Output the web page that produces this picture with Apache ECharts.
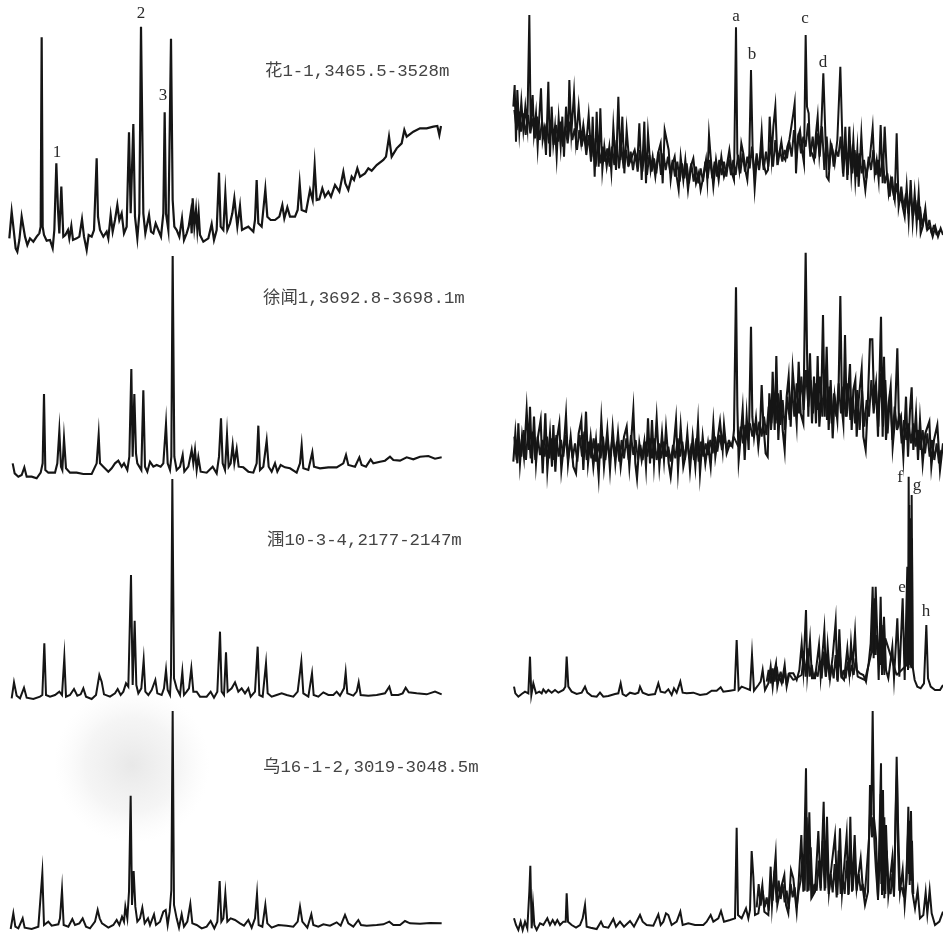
<!DOCTYPE html>
<html><head><meta charset="utf-8">
<style>html,body{margin:0;padding:0;background:#fff}#c{width:943px;height:934px;filter:blur(0.45px)}</style>
<script src="https://cdn.jsdelivr.net/npm/echarts@6/dist/echarts.min.js"></script>
</head><body><div id="c"></div>
<script>
// Each trace: flat list of retention position, peak height (arbitrary units)
const traceHua = [28,65,35,145,40,100,47,35,52,25,58,60,65,130,70,135,75,70,82,45,90,65,100,55,110,70,118,80,122,100,125,668,128,100,132,75,140,58,150,60,158,35,163,90,169,290,174,150,178,80,184,220,190,70,196,75,204,90,208,65,214,102,219,60,230,65,238,70,246,122,252,70,260,30,266,75,275,70,282,90,290,305,294,130,300,90,310,70,320,85,325,65,332,135,338,85,345,120,352,165,358,120,365,140,372,80,380,100,387,383,392,140,400,408,405,130,412,65,418,140,423,700,427,700,430,140,436,80,447,135,453,85,460,80,467,110,475,90,483,70,490,140,494,443,498,140,505,90,513,664,518,180,523,100,530,90,538,70,546,125,552,60,560,80,566,100,572,140,575,80,578,185,583,100,588,150,592,90,596,140,600,75,610,55,625,65,635,108,642,60,650,90,657,262,662,100,670,90,676,200,682,90,690,110,697,140,703,185,708,190,712,100,720,162,726,90,735,95,745,100,760,85,765,120,770,240,775,110,785,100,796,212,802,130,812,120,825,120,838,130,847,165,853,125,862,158,870,130,885,130,893,150,899,230,905,150,918,145,930,210,938,180,944,283,950,180,958,182,967,215,975,190,985,205,993,190,1005,225,1018,205,1030,265,1036,230,1045,210,1055,250,1062,240,1072,275,1080,250,1095,260,1105,275,1115,268,1130,285,1150,300,1158,310,1167,370,1175,310,1190,335,1205,350,1213,390,1220,370,1240,385,1260,395,1280,395,1300,400,1312,402,1318,375,1323,402];
const traceXuwen = [38,50,44,20,55,10,65,15,73,38,80,10,95,10,110,5,122,22,128,50,132,258,136,30,145,22,165,22,172,50,178,147,183,40,187,30,192,125,198,35,210,22,230,22,250,18,275,18,290,50,296,135,300,50,310,40,325,25,335,35,345,50,355,58,365,40,372,50,382,30,388,70,394,333,398,70,403,258,408,80,412,50,424,30,430,269,435,40,442,25,450,55,460,40,470,45,482,40,490,50,498,168,503,50,510,30,514,70,518,672,523,70,530,30,540,40,548,75,553,25,565,40,575,90,580,50,585,90,590,30,595,68,602,25,620,22,638,40,650,20,657,70,663,185,668,50,675,30,681,135,686,40,692,50,698,105,703,50,710,93,716,40,730,38,745,25,760,22,770,50,775,163,780,30,790,40,800,118,806,40,815,25,825,50,832,25,842,45,855,38,870,35,890,22,900,50,905,104,910,35,925,30,937,83,942,40,960,35,985,38,1010,38,1030,50,1038,75,1045,45,1065,40,1078,68,1085,45,1098,40,1112,62,1120,50,1140,55,1155,58,1170,70,1180,60,1200,58,1220,68,1240,62,1260,70,1285,72,1305,64,1325,68];
const traceWei = [35,20,42,68,50,28,60,20,72,52,80,22,100,18,120,25,127,30,133,185,138,30,150,25,165,30,178,40,186,30,193,143,198,25,210,30,222,48,232,28,242,32,250,50,258,25,275,18,288,30,298,90,305,70,312,32,330,25,345,35,353,48,362,30,370,40,378,65,385,55,393,390,398,60,404,253,409,60,415,35,424,50,431,135,436,40,445,30,455,45,460,40,466,75,472,35,485,30,492,50,498,105,503,45,510,30,513,90,517,678,522,80,530,50,540,30,547,100,552,30,560,40,567,50,574,110,580,40,590,40,600,25,620,25,632,40,642,22,652,40,660,220,665,40,672,30,678,158,683,40,695,50,705,68,715,40,725,50,735,35,745,50,752,25,765,40,773,175,778,30,788,25,798,125,803,35,815,25,830,30,845,35,860,30,880,25,893,40,904,130,910,35,925,25,936,95,941,30,955,25,970,38,985,30,1000,30,1010,40,1020,28,1032,50,1037,98,1042,35,1060,28,1070,40,1076,68,1082,30,1105,28,1130,30,1155,35,1168,55,1175,30,1195,30,1208,35,1217,52,1226,38,1250,35,1280,32,1305,40,1325,32];
const traceWu = [32,15,40,62,46,22,55,17,68,47,74,19,95,15,115,22,121,27,127,182,132,27,145,37,155,25,175,29,180,47,186,132,191,27,205,22,217,45,225,27,238,32,248,47,258,22,270,17,285,37,293,72,299,47,306,32,325,19,340,27,350,42,358,27,366,52,372,37,376,82,382,47,387,127,392,415,396,87,401,189,406,82,412,37,420,47,427,79,434,32,444,47,450,27,462,59,468,27,480,37,490,67,497,72,503,27,509,67,514,132,518,669,522,87,530,47,537,19,545,59,552,22,562,37,571,90,577,32,590,27,605,17,620,22,632,39,643,17,652,37,659,159,664,37,670,47,676,122,682,37,692,47,705,42,720,32,732,25,745,42,755,19,765,47,771,120,776,27,787,22,796,87,802,32,815,19,835,27,860,25,880,22,893,37,900,82,907,37,922,19,934,59,940,27,955,22,970,29,990,25,1010,35,1022,25,1035,57,1045,32,1060,22,1075,42,1083,27,1100,25,1130,27,1150,29,1168,37,1180,27,1200,27,1215,39,1230,32,1260,31,1290,33,1325,32];
const traceHuaHi = [40,430,44,495,48,325,52,480,58,355,64,445,70,360,76,430,82,370,88,705,92,370,98,465,102,350,108,410,113,310,118,400,123,485,128,330,133,360,138,285,145,505,150,280,155,430,160,320,165,370,170,280,176,395,182,310,187,400,192,280,198,430,204,330,208,510,214,350,222,470,228,330,236,430,244,325,250,375,258,310,266,405,274,280,278,400,284,220,290,415,296,250,301,425,307,240,313,310,320,250,328,310,334,235,340,370,348,240,355,460,361,270,367,400,373,230,380,360,388,260,396,280,404,300,412,260,418,380,425,210,433,385,438,200,444,350,452,240,458,280,466,220,474,290,482,320,488,200,494,360,500,365,506,300,512,210,518,260,524,280,530,220,536,180,542,280,550,210,556,270,564,180,572,250,580,275,588,200,596,230,602,180,610,220,618,270,622,210,627,345,632,280,640,190,648,270,656,210,664,280,672,220,680,250,688,300,696,230,702,210,708,668,712,290,718,240,724,320,730,290,736,240,742,210,748,290,753,540,758,300,764,185,770,270,778,250,785,355,790,260,798,230,804,240,809,400,815,280,820,370,826,430,832,270,838,290,844,325,850,280,856,270,862,310,868,330,874,370,880,410,884,440,888,230,894,340,900,360,906,300,912,260,917,645,921,430,926,410,930,300,936,290,942,270,948,350,953,400,958,290,964,370,970,530,975,380,980,220,986,210,992,320,998,300,1004,260,1012,330,1021,550,1026,370,1030,220,1036,370,1042,210,1048,370,1054,230,1060,330,1066,210,1072,300,1076,190,1084,345,1090,230,1096,180,1102,240,1110,280,1118,365,1124,230,1130,270,1136,210,1142,375,1148,200,1154,370,1160,240,1166,170,1172,210,1178,180,1184,150,1190,350,1196,130,1202,170,1208,130,1214,100,1220,190,1226,90,1232,210,1238,85,1244,170,1250,80,1256,170,1262,50,1268,70,1276,125,1282,60,1290,70,1298,40,1306,70,1314,40,1322,65,1329,45];
const traceXuwenHi = [40,55,46,140,52,50,55,170,60,50,66,130,72,70,80,210,86,90,90,220,96,50,102,190,108,50,114,130,122,180,128,20,136,200,142,30,150,140,156,40,160,165,166,25,172,130,178,170,184,30,192,110,198,195,204,50,212,130,220,40,228,20,236,140,244,180,250,30,258,205,264,50,272,130,280,40,288,120,296,10,304,180,312,40,322,150,330,30,338,155,346,50,354,140,362,40,372,130,380,160,388,40,400,210,406,50,411,5,418,110,425,60,433,115,438,40,444,185,450,50,456,180,462,50,470,185,478,40,486,140,492,60,498,155,506,50,512,10,520,90,528,180,534,30,542,160,550,40,556,70,562,140,570,30,578,130,586,40,594,170,600,20,608,130,616,50,624,110,632,40,640,170,646,70,654,130,660,175,668,90,672,165,680,80,690,110,697,100,702,150,708,578,712,220,716,60,722,130,728,210,734,60,740,190,746,90,753,460,757,190,762,130,768,185,775,100,780,150,785,285,790,170,797,80,803,70,808,260,814,170,818,325,824,150,829,372,835,120,842,270,848,150,854,90,860,250,866,310,872,160,878,330,884,335,890,170,896,355,902,200,910,170,917,682,921,390,925,190,930,380,936,170,942,310,948,170,953,372,958,160,964,250,969,495,974,190,980,400,986,150,992,300,998,125,1004,250,1012,180,1016,290,1021,552,1026,210,1030,170,1035,435,1040,190,1050,348,1055,150,1060,270,1066,300,1070,130,1076,240,1085,332,1090,130,1097,90,1103,220,1110,422,1117,422,1122,240,1128,290,1134,130,1143,490,1148,130,1152,370,1158,120,1165,220,1172,280,1178,100,1184,170,1192,395,1197,170,1203,190,1210,70,1218,250,1224,70,1230,210,1235,278,1240,90,1248,200,1254,60,1260,180,1268,50,1276,140,1288,175,1294,40,1302,120,1312,165,1320,30,1329,110];
const traceWeiHi = [42,55,46,35,55,25,65,33,75,40,85,35,90,145,94,30,100,65,108,35,118,40,125,35,130,47,138,37,145,45,155,37,165,45,175,37,190,45,196,55,200,145,205,55,215,40,230,33,245,37,255,55,262,37,275,27,290,25,300,37,310,25,325,27,345,33,355,35,362,65,368,33,378,27,390,37,405,33,415,37,420,55,428,37,445,30,465,33,475,65,482,40,495,37,505,47,515,30,522,50,530,37,541,70,548,37,560,35,580,37,600,30,620,33,635,43,650,43,662,53,670,40,690,43,704,45,710,195,716,45,725,55,740,49,750,45,756,150,762,43,775,60,782,70,788,105,795,45,805,65,812,115,818,55,822,95,828,125,832,55,838,85,845,65,854,120,860,55,868,95,880,95,890,75,898,105,905,183,910,105,918,285,922,95,930,195,936,80,945,80,957,180,962,85,973,225,978,85,983,177,990,80,998,145,1007,250,1012,75,1018,227,1024,85,1032,75,1042,170,1048,95,1053,185,1058,115,1065,217,1070,105,1080,95,1090,90,1098,70,1106,125,1112,185,1118,355,1122,150,1127,355,1132,205,1136,75,1142,325,1146,105,1152,265,1158,105,1165,80,1177,175,1182,80,1192,260,1198,85,1208,320,1214,75,1222,415,1224,105,1226,685,1229,125,1231,505,1233,115,1235,630,1238,115,1244,75,1252,55,1262,50,1272,65,1279,240,1284,80,1292,55,1305,45,1320,45,1329,60];
const traceWuHi = [42,47,48,27,55,12,62,37,68,12,75,37,82,17,88,127,91,205,95,17,99,87,103,27,110,12,120,32,130,27,142,47,150,27,158,42,165,29,172,42,180,27,190,37,197,37,200,122,204,37,215,27,228,19,240,27,248,47,255,87,260,22,272,19,290,15,303,37,310,22,325,19,340,45,348,22,360,37,372,22,390,39,402,22,420,57,428,37,440,27,460,25,475,59,482,27,490,37,498,62,505,57,515,27,530,37,541,67,548,27,565,32,585,27,610,27,620,37,632,57,640,37,655,47,663,69,672,37,690,42,705,47,710,319,714,57,725,47,738,77,745,47,750,72,755,249,760,172,765,57,775,62,787,147,793,67,805,57,812,202,816,87,822,177,827,237,832,87,840,127,853,177,858,87,865,62,873,192,880,167,890,67,896,157,904,297,910,127,918,497,922,127,928,365,934,107,945,127,955,309,962,137,971,397,976,137,981,352,987,127,995,207,1005,295,1012,117,1020,317,1026,122,1032,117,1040,297,1045,117,1051,352,1056,127,1064,297,1070,137,1082,227,1088,142,1095,87,1104,127,1110,447,1114,357,1118,669,1122,347,1128,287,1134,102,1143,512,1146,117,1149,432,1153,107,1158,327,1165,117,1177,229,1182,112,1190,532,1194,337,1200,127,1208,192,1214,87,1220,167,1225,382,1229,147,1233,369,1237,127,1245,77,1253,132,1260,47,1270,57,1277,125,1282,60,1289,132,1295,62,1305,27,1318,37,1329,67];

// Second reading of the dense unresolved band inside each noisy trace
const bandHua = [43,420,50,360,57,415,63,355,70,410,77,345,84,405,91,350,98,395,105,335,112,400,119,330,126,385,133,340,140,380,147,320,154,390,161,315,168,375,175,325,182,385,189,310,196,370,203,320,210,385,217,330,224,365,231,300,238,360,245,310,252,350,259,285,266,345,273,265,280,335,287,250,294,325,301,260,308,310,315,265,322,305,329,250,336,310,343,255,350,330,357,245,364,310,371,245,378,300,385,250,392,295,399,240,406,290,413,235,420,300,427,235,434,300,441,225,448,285,455,235,462,275,469,230,476,295,483,225,490,290,497,240,504,280,511,230,518,270,525,220,532,265,539,205,546,260,553,215,560,260,567,200,574,260,581,205,588,250,595,200,602,245,609,205,616,265,623,215,630,270,637,215,644,265,651,220,658,270,665,225,672,265,679,220,686,275,693,225,700,270,707,225,714,285,721,230,728,290,735,235,742,280,749,245,756,310,763,225,770,290,777,240,784,305,791,240,798,295,805,250,812,320,819,250,826,330,833,255,840,300,847,265,854,300,861,275,868,325,875,280,882,360,889,275,896,350,903,290,910,340,917,310,924,380,931,280,938,340,945,275,952,350,959,280,966,370,973,240,980,340,987,240,994,320,1001,250,1008,300,1015,280,1022,340,1029,230,1036,310,1043,225,1050,320,1057,230,1064,300,1071,220,1078,290,1085,230,1092,270,1099,215,1106,280,1113,240,1120,300,1127,225,1134,270,1141,220,1148,280,1155,200,1162,230,1169,160,1176,220,1183,150,1190,200,1197,140,1204,190,1211,125,1218,170,1225,110,1232,170,1239,100,1246,150,1253,90,1260,130,1267,70,1274,110,1281,60,1288,90,1295,50,1302,75,1310,45,1320,60];
const bandXuwen = [43,130,50,60,57,125,64,70,71,150,78,60,85,165,92,65,99,145,106,60,113,130,120,75,127,120,134,70,141,130,148,65,155,125,162,60,169,135,176,70,183,120,190,70,197,135,204,60,211,120,218,65,225,110,232,55,239,135,246,70,253,145,260,60,267,115,274,65,281,125,288,55,295,110,302,65,309,130,316,60,323,115,330,65,337,125,344,70,351,115,358,55,365,120,372,65,379,125,386,60,393,135,400,75,407,120,414,60,421,105,428,60,435,115,442,70,449,125,456,65,463,125,470,60,477,110,484,65,491,115,498,70,505,100,512,55,519,105,526,65,533,125,540,70,547,115,554,60,561,120,568,65,575,110,582,60,589,125,596,55,603,115,610,70,617,110,624,75,631,120,638,80,645,130,652,85,659,135,666,90,673,130,680,95,687,120,694,100,701,130,715,100,722,160,729,110,736,165,743,120,750,170,757,130,764,170,771,135,778,175,785,130,792,190,799,135,806,220,813,150,820,245,827,170,834,260,841,165,848,240,855,150,862,250,869,180,876,270,883,190,890,290,897,200,904,310,911,210,918,330,925,220,932,300,939,200,946,290,953,210,960,310,967,190,974,320,981,180,988,280,995,170,1002,260,1009,190,1016,290,1023,200,1030,280,1037,190,1044,290,1051,180,1058,250,1065,170,1072,270,1079,150,1086,270,1093,160,1100,240,1107,190,1114,300,1121,200,1128,270,1135,160,1142,320,1149,160,1156,300,1163,140,1170,260,1177,120,1184,220,1191,150,1198,200,1205,110,1212,180,1219,120,1226,170,1233,110,1240,170,1247,100,1254,150,1261,90,1268,150,1275,80,1282,140,1289,70,1296,120,1303,60,1310,110,1317,50,1324,90];
const bandWei = [800,70,806,105,812,65,818,110,824,70,830,115,836,75,842,100,848,65,854,105,860,60,866,95,880,75,905,90,911,150,917,85,923,170,929,85,935,120,941,80,947,100,953,85,959,130,965,80,971,160,977,85,983,140,989,75,995,120,1001,80,1007,150,1013,70,1019,160,1025,80,1031,105,1037,80,1043,130,1049,85,1055,120,1061,90,1067,140,1073,85,1095,75,1115,160,1118,300,1121,140,1124,320,1127,150,1130,210,1140,120,1143,250,1146,90,1150,240,1153,90,1156,200,1190,90,1220,120,1223,300,1226,110,1228,600,1230,120,1232,560,1234,110,1236,500,1238,110];
const bandWu = [770,80,776,150,782,85,788,130,794,80,800,110,806,70,812,140,818,100,824,190,830,95,836,160,842,105,848,150,854,95,860,130,866,75,872,150,878,110,884,140,890,80,896,130,902,160,908,240,914,130,920,350,926,130,932,260,938,120,944,150,950,130,956,220,962,130,968,280,974,130,980,260,986,120,992,180,998,125,1004,210,1010,110,1016,250,1022,120,1028,170,1034,120,1040,220,1046,120,1052,240,1058,130,1064,230,1070,130,1076,180,1082,130,1088,150,1094,110,1108,300,1112,420,1116,290,1120,350,1124,260,1128,190,1134,110,1139,220,1142,420,1144,150,1147,400,1150,130,1153,350,1156,120,1160,250,1166,130,1172,120,1177,180,1182,120,1188,400,1191,480,1194,250,1198,130,1205,140,1212,110,1218,150,1224,300,1227,180,1230,340,1233,160,1236,280,1240,120];

const peakNamesLeft = ['1','2','3'];
const peakNamesRight = ['a','b','c','d','f','g','e','h'];
const sampleLabels = ['花1-1,3465.5-3528m','徐闻1,3692.8-3698.1m','涠10-3-4,2177-2147m','乌16-1-2,3019-3048.5m'];

const panels = [
  {d:traceHua,    l:0,  t:0,  w:470,h:260,x:1410,y:780,lw:2.2},
  {d:traceXuwen,  l:0,  t:250,w:470,h:230,x:1410,y:690,lw:2.1},
  {d:traceWei,    l:0,  t:475,w:470,h:230,x:1410,y:690,lw:2},
  {d:traceWu,     l:0,  t:705,w:470,h:229,x:1410,y:687,lw:2},
  {d:traceHuaHi,  l:500,t:0,  w:443,h:250,x:1329,y:750,lw:2,band:bandHua},
  {d:traceXuwenHi,l:500,t:250,w:443,h:230,x:1329,y:690,lw:2.1,band:bandXuwen},
  {d:traceWeiHi,  l:500,t:470,w:443,h:235,x:1329,y:705,lw:2,band:bandWei},
  {d:traceWuHi,   l:500,t:705,w:443,h:229,x:1329,y:687,lw:2,band:bandWu}
];
const pairs = a => { const o=[]; for(let i=0;i<a.length;i+=2) o.push([a[i],a[i+1]]); return o; };
const serif = '"Liberation Serif","Noto Sans CJK SC",serif';
const mono = '"Liberation Mono","Noto Sans CJK SC",monospace';
const txt = (s,x,y,size,font,color) => ({type:'text',x,y,silent:true,style:{text:s,fontSize:size,fontFamily:font,fill:color||'#2a2a2a',textAlign:'center',textVerticalAlign:'middle'}});
const left = (s,x,y) => ({type:'text',x,y,silent:true,style:{text:s,fontSize:17.4,fontFamily:mono,fill:'#444',textAlign:'left',textVerticalAlign:'middle'}});

const leftPos = [[57,153],[141,14],[163,96]];
const rightPos = [[736,17],[752,55],[805,19],[823,63],[900,478],[917,486],[902,588],[926,612]];
const labelPos = [[265,71],[263,298],[267,540],[263,767]];

const graphic = [
  {type:'ellipse',silent:true,z:-1,shape:{cx:132,cy:765,rx:95,ry:78},style:{fill:new echarts.graphic.RadialGradient(0.5,0.5,0.5,[{offset:0,color:'rgba(200,200,200,0.42)'},{offset:0.6,color:'rgba(215,215,215,0.25)'},{offset:1,color:'rgba(235,235,235,0)'}])}},
  ...peakNamesLeft.map((s,i)=>txt(s,leftPos[i][0],leftPos[i][1],17,serif)),
  ...peakNamesRight.map((s,i)=>txt(s,rightPos[i][0],rightPos[i][1],17,serif)),
  ...sampleLabels.map((s,i)=>left(s,labelPos[i][0],labelPos[i][1]))
];

const traceSeries = panels.map((p,i)=>({type:'line',xAxisIndex:i,yAxisIndex:i,data:pairs(p.d),showSymbol:false,clip:false,silent:true,z:3,lineStyle:{color:'#151515',width:p.lw,join:'miter',miterLimit:20}}));
const bandSeries = panels.map((p,i)=>p.band?({type:'line',xAxisIndex:i,yAxisIndex:i,data:pairs(p.band),showSymbol:false,clip:false,silent:true,z:2,lineStyle:{color:'#1a1a1a',width:2,join:'bevel'}}):null).filter(Boolean);

const chart = echarts.init(document.getElementById('c'),null,{renderer:'canvas'});
chart.setOption({
  animation:false,
  backgroundColor:'#fff',
  grid:panels.map(p=>({left:p.l,top:p.t,width:p.w,height:p.h,containLabel:false})),
  xAxis:panels.map((p,i)=>({type:'value',gridIndex:i,min:0,max:p.x,show:false})),
  yAxis:panels.map((p,i)=>({type:'value',gridIndex:i,min:0,max:p.y,show:false})),
  series:[...bandSeries,...traceSeries],
  graphic
});
</script></body></html>
